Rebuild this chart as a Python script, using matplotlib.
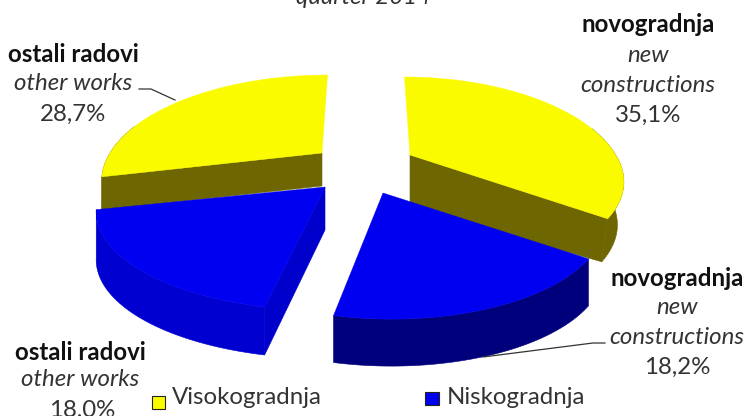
import numpy as np
import matplotlib
matplotlib.use("Agg")
import matplotlib.pyplot as plt
from matplotlib.patches import Rectangle

plt.rcParams['font.family'] = ['Lato', 'DejaVu Sans']

# data
series_names = ["Visokogradnja", "Niskogradnja"]
labels_hr = ["novogradnja", "novogradnja", "ostali radovi", "ostali radovi"]
labels_en = ["new\nconstructions", "new\nconstructions", "other works", "other works"]
values = [35.1, 18.2, 18.0, 28.7]
series_of = [0, 1, 1, 0]
title_fragment = "quarter 2014"

# style
top_col = ["#FBFB00", "#0000F0"]
radial_col = ["#6E6600", "#0000A8", "#0000CC", "#6E6600"]
rim_col = ["#6E6600", "#00007C", "#0000D0", "#6E6600"]
apexes = [(410, 155), (383, 193), (325, 187), (322, 153)]
depths = [43, 47, 48, 33]
apex_depths = [52, 47, 43, 33]
shear = [5.5, 8.5, 0.0, -5.5]
rx_scale = [0.97, 1.0, 1.045, 1.0]
ry_scale = [0.94, 0.97, 0.95, 1.0]
bottom_scale = [0.97, 1.0, 1.0, 1.0]
walls = {0: [-1], 1: [], 2: [0], 3: [0]}
RX, RY, K = 212, 97.5, 0.25
draw_order = [3, 0, 2, 1]

fig = plt.figure(figsize=(7.5, 4.16), dpi=100)
ax = fig.add_axes([0, 0, 1, 1])
ax.set_xlim(0, 750)
ax.set_ylim(416, 0)
ax.axis("off")


def rim(i, th):
    """Project angles (degrees clockwise from the back) on to the tilted disc."""
    t = np.radians(th)
    u, v = np.sin(t), np.cos(t)
    s = 1 / (1 + K * v)
    ax_, ay_ = apexes[i]
    front = np.where(v < 0, ry_scale[i], 1.0)
    return ax_ + RX * rx_scale[i] * u * s - shear[i] * v, ay_ - RY * front * v * s


edges = np.concatenate([[0], np.cumsum(values)]) / sum(values) * 360
for i in draw_order:
    a, d = apexes[i], depths[i]
    th = np.linspace(edges[i], edges[i + 1], 160)
    x, y = rim(i, th)
    xb = a[0] + (x - a[0]) * bottom_scale[i]
    yb = y + d
    c = series_of[i]
    mask = np.cos(np.radians(th)) <= 0.3
    if mask.any():
        ax.fill(np.r_[x[mask], xb[mask][::-1]], np.r_[y[mask], yb[mask][::-1]],
                fc=rim_col[i], ec=rim_col[i], lw=0.4, zorder=2)
    for end in walls[i]:
        ax.fill([a[0], x[end], xb[end], a[0]], [a[1], y[end], yb[end], a[1] + apex_depths[i]],
                fc=radial_col[i], ec=radial_col[i], lw=0.4, zorder=2)
    ax.fill(np.r_[a[0], x], np.r_[a[1], y], fc=top_col[c], ec=top_col[c], lw=0.3, zorder=2)

# leader lines
ax.plot([139, 151, 175], [89, 89, 100], color="#333333", lw=0.9, zorder=3)
ax.plot([605, 593, 483], [343, 343, 357], color="#333333", lw=0.9, zorder=3)

# labels
label_pos = [(648, [25, 56, 86, 115]), (677, [278, 308, 338, 367]),
             (80, [352, 380, 410]), (73, [55, 84, 114])]
FS = 17.3
for i, (cx, ys) in enumerate(label_pos):
    en = labels_en[i].split("\n")
    ax.text(cx, ys[0], labels_hr[i], ha="center", va="center", fontsize=FS,
            fontweight="bold", color="#111111")
    for line, yy in zip(en, ys[1:]):
        ax.text(cx, yy, line, ha="center", va="center", fontsize=FS,
                style="italic", color="#333333")
    ax.text(cx + (2 if i == 2 else 0), ys[-1], f"{values[i]:.1f}%".replace(".", ","),
            ha="center", va="center", fontsize=FS, color="#333333")

ax.text(363, -3, title_fragment, ha="center", va="center", fontsize=FS,
        style="italic", color="#333333")

# legend
ax.add_patch(Rectangle((152, 396), 13, 13, fc=top_col[0], ec="#222222", lw=0.8, zorder=3))
ax.add_patch(Rectangle((425, 392), 14, 13, fc=top_col[1], ec="#222222", lw=0.8, zorder=3))
ax.text(172, 398, series_names[0], ha="left", va="center", fontsize=FS, color="#333333")
ax.text(447, 398, series_names[1], ha="left", va="center", fontsize=FS, color="#333333")

fig.savefig("out.png", dpi=100)
